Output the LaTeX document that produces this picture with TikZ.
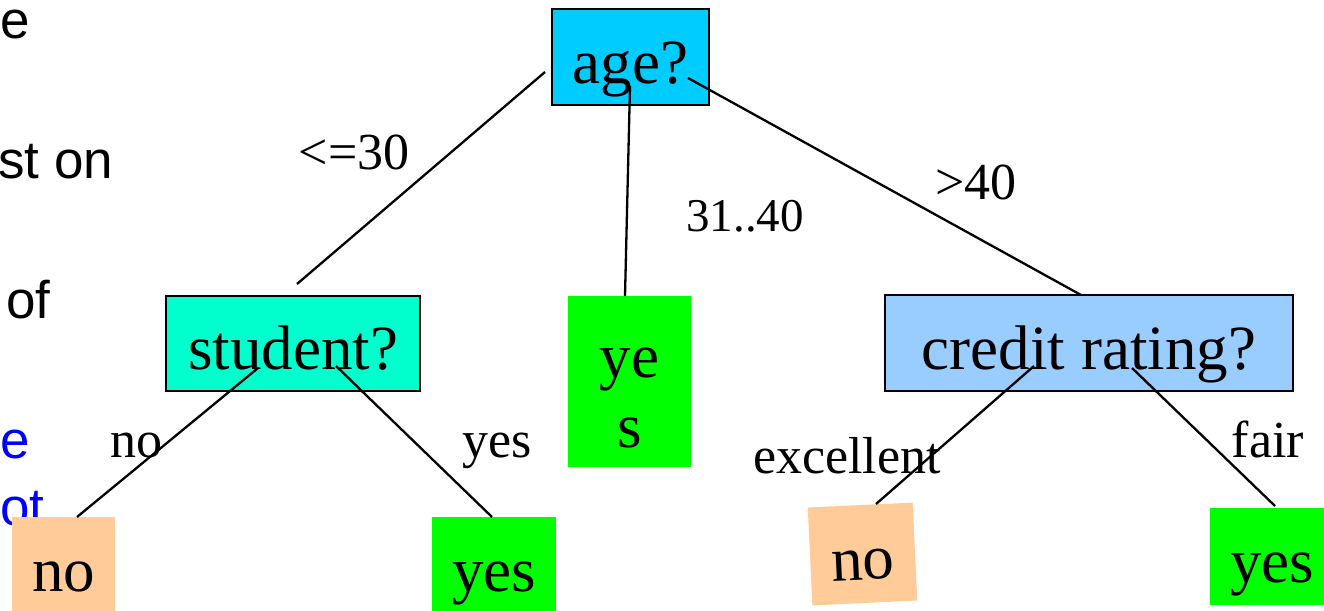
\documentclass[tikz,border=0pt]{standalone}
\usepackage{fontspec}
\setmainfont{Liberation Serif}
\newfontfamily\sansf{Liberation Sans}
\definecolor{agecol}{HTML}{00CCFF}
\definecolor{studcol}{HTML}{00FFCC}
\definecolor{credcol}{HTML}{99CCFF}
\definecolor{leafyes}{HTML}{00FF00}
\definecolor{leafno}{HTML}{FFCC99}
\definecolor{bluetxt}{HTML}{0000FF}
\tikzset{
  testbox/.style={draw=black, line width=2.2pt, inner sep=0pt, text height=52pt, text depth=0pt, font=\fontsize{63}{70}\selectfont},
  leafbox/.style={inner sep=0pt, text height=52pt, text depth=0pt, font=\fontsize{63}{70}\selectfont},
  bigtxt/.style={inner sep=0pt, anchor=base, font=\fontsize{63}{70}\selectfont},
  edgelbl/.style={inner sep=0pt, anchor=base, font=\fontsize{52}{60}\selectfont},
  sidetxt/.style={inner sep=0pt, anchor=base west, font=\sansf\fontsize{53}{60}\selectfont},
  branch/.style={line width=2.3pt, black},
}
\begin{document}
\begin{tikzpicture}[x=1pt,y=-1pt]
\useasboundingbox (0,0) rectangle (1324,610);
\clip (0,0) rectangle (1324,610);
\fill[white] (0,0) rectangle (1324,610);
% side text
\node[sidetxt] (s1) at (0,38) {e};
\node[sidetxt] (s2) at (-2,178) {st on};
\node[sidetxt] (s3) at (6,318) {of};
\node[sidetxt, text=bluetxt] (s4) at (0,458) {e};
\node[sidetxt, text=bluetxt] (s5) at (0,525) {ot};
% boxes
\node[testbox, fill=agecol, minimum width=157pt, minimum height=96pt] (age) at (630.5,57) {age?};
\node[testbox, fill=studcol, minimum width=254pt, minimum height=95pt] (stud) at (293,343.5) {student?};
\node[testbox, fill=credcol, minimum width=408pt, minimum height=96pt] (cred) at (1089,343) {credit rating?};
\node[fill=leafyes, inner sep=0pt, minimum width=123pt, minimum height=171pt] (mid) at (629.5,381.5) {};
\node[bigtxt] (midA) at (629.5,377) {ye};
\node[bigtxt] (midB) at (629.5,447) {s};
\node[leafbox, fill=leafno, minimum width=103pt, minimum height=97pt] (noA) at (63.5,565) {no};
\node[leafbox, fill=leafyes, minimum width=124pt, minimum height=97pt] (yesA) at (494,565) {yes};
\node[leafbox, fill=leafno, minimum width=105pt, minimum height=98pt, rotate=2.7] (noB) at (862.5,554) {no};
\node[leafbox, fill=leafyes, minimum width=124pt, minimum height=97pt] (yesB) at (1272,556) {yes};
% connector end points
\coordinate (a1) at (545,72);   \coordinate (b1) at (297,284);
\coordinate (a2) at (630,86);   \coordinate (b2) at (625,296);
\coordinate (a3) at (688,78);   \coordinate (b3) at (1081,295);
\coordinate (a4) at (258,368);  \coordinate (b4) at (77,517);
\coordinate (a5) at (336,366);  \coordinate (b5) at (492,517);
\coordinate (a6) at (1034,366); \coordinate (b6) at (876,504);
\coordinate (a7) at (1132,368); \coordinate (b7) at (1275,506);
\draw[branch] (a1) -- (b1);
\draw[branch] (a2) -- (b2);
\draw[branch] (a3) -- (b3);
\draw[branch] (a4) -- (b4);
\draw[branch] (a5) -- (b5);
\draw[branch] (a6) -- (b6);
\draw[branch] (a7) -- (b7);
% edge labels
\node[edgelbl] (l1) at (354,169) {<=30};
\node[edgelbl, font=\fontsize{47}{55}\selectfont] (l2) at (745,231) {31..40};
\node[edgelbl] (l3) at (976,199) {>40};
\node[edgelbl] (l4) at (136,457) {no};
\node[edgelbl] (l5) at (497,457) {yes};
\node[edgelbl] (l6) at (847,473) {excellent};
\node[edgelbl] (l7) at (1268,457) {fair};
\end{tikzpicture}
\end{document}
